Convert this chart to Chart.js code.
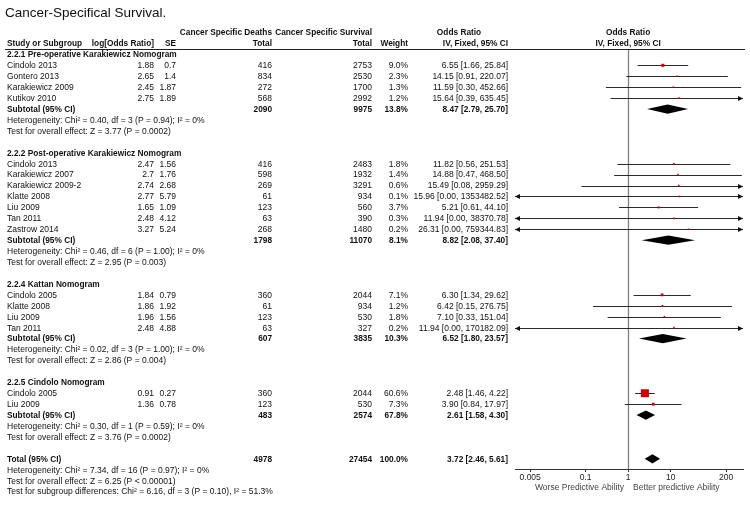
<!DOCTYPE html>
<html><head><meta charset="utf-8">
<script src="https://cdn.jsdelivr.net/npm/chart.js@4.4.0/dist/chart.umd.min.js"></script>
<style>html,body{margin:0;padding:0;background:#fff;}#wrap{width:750px;height:505px;position:relative;}</style>
</head><body><div id="wrap"><canvas id="c" width="750" height="505"></canvas></div>
<script>
// ---------------- DATA ----------------
const chartTitle = 'Cancer-Specifical Survival.';
const groupTitles = [
  '2.2.1 Pre-operative Karakiewicz Nomogram',
  '2.2.2 Post-operative Karakiewicz Nomogram',
  '2.2.4 Kattan Nomogram',
  '2.2.5 Cindolo Nomogram'
];
const studyGroup = [0,0,0,0, 1,1,1,1,1,1,1, 2,2,2,2, 3,3];
const studyNames = ['Cindolo 2013','Gontero 2013','Karakiewicz 2009','Kutikov 2010',
  'Cindolo 2013','Karakiewicz 2007','Karakiewicz 2009-2','Klatte 2008','Liu 2009','Tan 2011','Zastrow 2014',
  'Cindolo 2005','Klatte 2008','Liu 2009','Tan 2011',
  'Cindolo 2005','Liu 2009'];
const logOR = [1.88,2.65,2.45,2.75, 2.47,2.7,2.74,2.77,1.65,2.48,3.27, 1.84,1.86,1.96,2.48, 0.91,1.36];
const seVals = [0.7,1.4,1.87,1.89, 1.56,1.76,2.68,5.79,1.09,4.12,5.24, 0.79,1.92,1.56,4.88, 0.27,0.78];
const deathsTotal = [416,834,272,568, 416,598,269,61,123,63,268, 360,61,123,63, 360,123];
const survivalTotal = [2753,2530,1700,2992, 2483,1932,3291,934,560,390,1480, 2044,934,530,327, 2044,530];
const weightPct = [9.0,2.3,1.3,1.2, 1.8,1.4,0.6,0.1,3.7,0.3,0.2, 7.1,1.2,1.8,0.2, 60.6,7.3];
const orEst = [6.55,14.15,11.59,15.64, 11.82,14.88,15.49,15.96,5.21,11.94,26.31, 6.30,6.42,7.10,11.94, 2.48,3.90];
const orLow = [1.66,0.91,0.30,0.39, 0.56,0.47,0.08,0.00,0.61,0.00,0.00, 1.34,0.15,0.33,0.00, 1.46,0.84];
const orHigh = [25.84,220.07,452.66,635.45, 251.53,468.50,2959.29,1353482.52,44.10,38370.78,759344.83, 29.62,276.75,151.04,170182.09, 4.22,17.97];

const subDeaths = [2090,1798,607,483];
const subSurvival = [9975,11070,3835,2574];
const subWeight = [13.8,8.1,10.3,67.8];
const subOR = [8.47,8.82,6.52,2.61];
const subLow = [2.79,2.08,1.80,1.58];
const subHigh = [25.70,37.40,23.57,4.30];
const subHet = [
  'Heterogeneity: Chi\u00B2 = 0.40, df = 3 (P = 0.94); I\u00B2 = 0%',
  'Heterogeneity: Chi\u00B2 = 0.46, df = 6 (P = 1.00); I\u00B2 = 0%',
  'Heterogeneity: Chi\u00B2 = 0.02, df = 3 (P = 1.00); I\u00B2 = 0%',
  'Heterogeneity: Chi\u00B2 = 0.30, df = 1 (P = 0.59); I\u00B2 = 0%'
];
const subTest = [
  'Test for overall effect: Z = 3.77 (P = 0.0002)',
  'Test for overall effect: Z = 2.95 (P = 0.003)',
  'Test for overall effect: Z = 2.86 (P = 0.004)',
  'Test for overall effect: Z = 3.76 (P = 0.0002)'
];
const totalDeaths = 4978;
const totalSurvival = 27454;
const totalWeight = 100.0;
const totalOR = [3.72, 2.46, 5.61];
const totalNotes = [
  'Heterogeneity: Chi\u00B2 = 7.34, df = 16 (P = 0.97); I\u00B2 = 0%',
  'Test for overall effect: Z = 6.25 (P < 0.00001)',
  'Test for subgroup differences: Chi\u00B2 = 6.16, df = 3 (P = 0.10), I\u00B2 = 51.3%'
];
const xTicks = [0.005, 0.1, 1, 10, 200];
const favourLeft = 'Worse Predictive Ability';
const favourRight = 'Better predictive Ability';

// ---------------- LAYOUT ----------------
const FONT = '"Liberation Sans", Arial, sans-serif';
const REG = '8.5px ' + FONT;
const BOLD = 'bold 8.3px ' + FONT;
const COL = { name: 7, logor: 154, se: 176, deaths: 272, surv: 372, weight: 408, ortext: 508 };

const rows = [];
let r = 0;
groupTitles.forEach((g, gi) => {
  rows.push({ type: 'group', text: g, row: r++ });
  studyNames.forEach((n, i) => { if (studyGroup[i] === gi) rows.push({ type: 'study', i: i, row: r++ }); });
  rows.push({ type: 'sub', gi: gi, row: r++ });
  rows.push({ type: 'note', text: subHet[gi], row: r++ });
  rows.push({ type: 'note', text: subTest[gi], row: r++ });
  r++;
});
rows.push({ type: 'total', row: r++ });
totalNotes.forEach(t => rows.push({ type: 'note', text: t, row: r++ }));

const studyRows = rows.filter(o => o.type === 'study');
const squareData = studyRows.map(o => ({ x: orEst[o.i], y: o.row }));
const squareRadius = studyRows.map(o => Math.max(1.6, 8 * Math.sqrt(weightPct[o.i] / 60.6)) / Math.SQRT2);

const fmt2 = v => v.toFixed(2);
const orString = (e, l, h) => fmt2(e) + ' [' + fmt2(l) + ', ' + fmt2(h) + ']';

const forestPlugin = {
  id: 'forest',
  beforeDatasetsDraw(chart) {
    const ctx = chart.ctx, xs = chart.scales.x, ys = chart.scales.y, ca = chart.chartArea;
    ctx.save();
    // line of no effect
    ctx.strokeStyle = '#808080'; ctx.lineWidth = 1.3;
    const x1 = Math.round(xs.getPixelForValue(1)) + 0.5;
    ctx.beginPath(); ctx.moveTo(x1, ca.top); ctx.lineTo(x1, ca.bottom); ctx.stroke();
    // CI lines
    ctx.strokeStyle = '#2a2a2a'; ctx.fillStyle = '#111'; ctx.lineWidth = 1;
    studyRows.forEach(o => {
      const i = o.i;
      const y = Math.round(ys.getPixelForValue(o.row)) + 0.5;
      const lo = orLow[i] < xs.min ? ca.left : xs.getPixelForValue(orLow[i]);
      const hi = orHigh[i] > xs.max ? ca.right : xs.getPixelForValue(orHigh[i]);
      ctx.beginPath(); ctx.moveTo(lo, y); ctx.lineTo(hi, y); ctx.stroke();
      if (orHigh[i] > xs.max) {
        ctx.beginPath(); ctx.moveTo(ca.right, y); ctx.lineTo(ca.right - 5, y - 2.5); ctx.lineTo(ca.right - 5, y + 2.5); ctx.closePath(); ctx.fill();
      }
      if (orLow[i] < xs.min) {
        ctx.beginPath(); ctx.moveTo(ca.left, y); ctx.lineTo(ca.left + 5, y - 2.5); ctx.lineTo(ca.left + 5, y + 2.5); ctx.closePath(); ctx.fill();
      }
    });
    ctx.restore();
  },
  afterDatasetsDraw(chart) {
    const ctx = chart.ctx, xs = chart.scales.x, ys = chart.scales.y;
    ctx.save();
    ctx.fillStyle = '#000';
    const diamond = (row, e, l, h) => {
      const y = ys.getPixelForValue(row);
      ctx.beginPath();
      ctx.moveTo(xs.getPixelForValue(l), y);
      ctx.lineTo(xs.getPixelForValue(e), y - 4.6);
      ctx.lineTo(xs.getPixelForValue(h), y);
      ctx.lineTo(xs.getPixelForValue(e), y + 4.6);
      ctx.closePath(); ctx.fill();
    };
    rows.forEach(o => {
      if (o.type === 'sub') diamond(o.row, subOR[o.gi], subLow[o.gi], subHigh[o.gi]);
      if (o.type === 'total') diamond(o.row, totalOR[0], totalOR[1], totalOR[2]);
    });
    ctx.restore();
  },
  afterDraw(chart) {
    const ctx = chart.ctx, ys = chart.scales.y, xs = chart.scales.x;
    ctx.save();
    ctx.fillStyle = '#111';
    ctx.textBaseline = 'middle';
    const t = (s, x, y, align, font) => { ctx.font = font; ctx.textAlign = align; ctx.fillText(s, x, y); };
    // title
    t(chartTitle, 5, 13, 'left', '13.5px ' + FONT);
    // header
    t('Cancer Specific Deaths', COL.deaths, 32.5, 'right', BOLD);
    t('Cancer Specific Survival', COL.surv, 32.5, 'right', BOLD);
    t('Odds Ratio', 459, 32.5, 'center', BOLD);
    t('Odds Ratio', xs.getPixelForValue(1), 32.5, 'center', BOLD);
    t('Study or Subgroup', COL.name, 44, 'left', BOLD);
    t('log[Odds Ratio]', COL.logor, 44, 'right', BOLD);
    t('SE', COL.se, 44, 'right', BOLD);
    t('Total', COL.deaths, 44, 'right', BOLD);
    t('Total', COL.surv, 44, 'right', BOLD);
    t('Weight', COL.weight, 44, 'right', BOLD);
    t('IV, Fixed, 95% CI', COL.ortext, 44, 'right', BOLD);
    t('IV, Fixed, 95% CI', xs.getPixelForValue(1), 44, 'center', BOLD);
    ctx.strokeStyle = '#222'; ctx.lineWidth = 1;
    ctx.beginPath(); ctx.moveTo(5, 49.5); ctx.lineTo(745, 49.5); ctx.stroke();
    // rows
    rows.forEach(o => {
      const y = ys.getPixelForValue(o.row) + 0.5;
      if (o.type === 'group') t(o.text, COL.name, y, 'left', BOLD);
      else if (o.type === 'note') t(o.text, COL.name, y, 'left', REG);
      else if (o.type === 'study') {
        const i = o.i;
        t(studyNames[i], COL.name, y, 'left', REG);
        t(String(logOR[i]), COL.logor, y, 'right', REG);
        t(String(seVals[i]), COL.se, y, 'right', REG);
        t(String(deathsTotal[i]), COL.deaths, y, 'right', REG);
        t(String(survivalTotal[i]), COL.surv, y, 'right', REG);
        t(weightPct[i].toFixed(1) + '%', COL.weight, y, 'right', REG);
        t(orString(orEst[i], orLow[i], orHigh[i]), COL.ortext, y, 'right', REG);
      } else if (o.type === 'sub') {
        const g = o.gi;
        t('Subtotal (95% CI)', COL.name, y, 'left', BOLD);
        t(String(subDeaths[g]), COL.deaths, y, 'right', BOLD);
        t(String(subSurvival[g]), COL.surv, y, 'right', BOLD);
        t(subWeight[g].toFixed(1) + '%', COL.weight, y, 'right', BOLD);
        t(orString(subOR[g], subLow[g], subHigh[g]), COL.ortext, y, 'right', BOLD);
      } else if (o.type === 'total') {
        t('Total (95% CI)', COL.name, y, 'left', BOLD);
        t(String(totalDeaths), COL.deaths, y, 'right', BOLD);
        t(String(totalSurvival), COL.surv, y, 'right', BOLD);
        t(totalWeight.toFixed(1) + '%', COL.weight, y, 'right', BOLD);
        t(orString(totalOR[0], totalOR[1], totalOR[2]), COL.ortext, y, 'right', BOLD);
      }
    });
    // favours labels
    ctx.fillStyle = '#444';
    const xm = xs.getPixelForValue(1);
    t(favourLeft, xm - 4, 487.5, 'right', REG);
    t(favourRight, xm + 5, 487.5, 'left', REG);
    ctx.restore();
  }
};

new Chart(document.getElementById('c'), {
  type: 'scatter',
  data: {
    datasets: [{
      data: squareData,
      pointStyle: 'rect',
      pointRadius: squareRadius,
      pointHoverRadius: squareRadius,
      backgroundColor: '#cc0000',
      borderColor: '#cc0000',
      borderWidth: 0
    }]
  },
  options: {
    responsive: false,
    animation: false,
    events: [],
    layout: { padding: { left: 515, right: 7, top: 50, bottom: 0 } },
    plugins: { legend: { display: false }, tooltip: { enabled: false }, title: { display: false } },
    scales: {
      x: {
        type: 'logarithmic',
        min: 0.0022, max: 500,
        afterBuildTicks: s => { s.ticks = xTicks.map(v => ({ value: v })); },
        afterFit: s => { s.height = 36; },
        ticks: { callback: v => String(v), font: { family: FONT, size: 8.5 }, color: '#222', padding: 1, maxRotation: 0, autoSkip: false },
        grid: { drawOnChartArea: false, drawTicks: true, tickLength: 3, color: '#333' },
        border: { display: true, color: '#333', width: 1 }
      },
      y: { type: 'linear', reverse: true, min: -0.4, max: 37.93, display: false }
    }
  },
  plugins: [forestPlugin]
});
</script>
</body></html>
